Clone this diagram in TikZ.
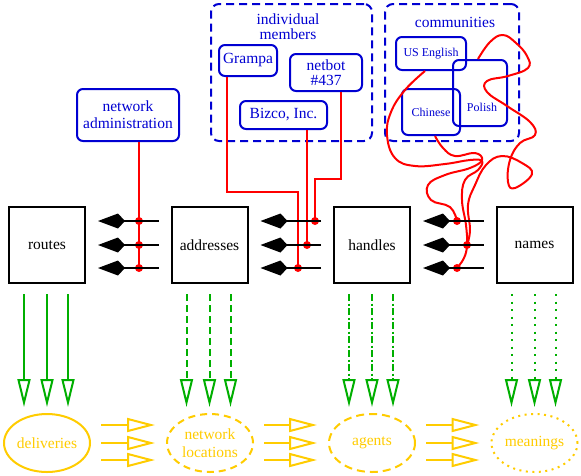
\documentclass[tikz,border=0pt]{standalone}
\usepackage{fontspec}
\setmainfont{Liberation Serif}
\usetikzlibrary{arrows.meta,shapes.geometric,calc}
\definecolor{myblue}{RGB}{0,0,210}
\definecolor{mygreen}{RGB}{0,175,0}
\definecolor{myyellow}{RGB}{255,204,0}
\newcommand\mainfs{\fontsize{15.5}{15}\selectfont}
\newcommand\smallfs{\fontsize{12}{13}\selectfont}
\begin{document}
\begin{tikzpicture}[x=1pt,y=-1pt,
  box/.style={draw=black, line width=2pt, minimum width=76pt, minimum height=76pt, inner sep=0pt, font=\mainfs},
  bluebox/.style={draw=myblue, text=myblue, line width=2pt, rounded corners=6pt, align=center, inner sep=0pt, font=\mainfs},
  commbox/.style={bluebox, font=\smallfs},
  commtext/.style={text=myblue, inner sep=0pt, font=\smallfs},
  groupbox/.style={draw=myblue, line width=2pt, dash pattern=on 8pt off 5pt, rounded corners=8pt},
  grouplabel/.style={text=myblue, align=center, inner sep=0pt, font=\mainfs},
  ell/.style={ellipse, draw=myyellow, text=myyellow, line width=2pt, minimum width=86pt, minimum height=58pt, inner sep=0pt, align=center, font=\mainfs},
  blackarr/.style={draw=black, line width=2pt, -{Kite[length=27pt,width=15pt,inset=7pt]}},
  greenarr/.style={draw=mygreen, line width=2pt, -{Triangle[open,length=28pt,width=13pt]}},
  yelarr/.style={draw=myyellow, line width=2pt, -{Triangle[open,length=28pt,width=14pt]}},
  redline/.style={draw=red, line width=2pt},
  reddot/.style={fill=red, circle, inner sep=0pt, minimum size=8pt},
]
\fill[white] (0,0) rectangle (581,475);
\useasboundingbox (0,0) rectangle (581,475);

% main boxes
\node[box] (routes) at (47,245) {routes};
\node[box] (addresses) at (209.5,245) {addresses};
\node[box] (handles) at (372,245) {handles};
\node[box] (names) at (534.5,245) {names};

% blue nodes
\node[bluebox, minimum width=102pt, minimum height=52pt, font=\fontsize{15.5}{17}\selectfont] (netadmin) at (128,115) {network\\administration};
\node[groupbox, minimum width=161pt, minimum height=137pt] (members) at (291.5,72.5) {};
\node[grouplabel] (memberslabel) at (288,27) {individual\\members};
\node[bluebox, minimum width=58pt, minimum height=31pt] (grampa) at (248,60.5) {Grampa};
\node[bluebox, minimum width=72pt, minimum height=37pt] (netbot) at (326,72.5) {netbot\\\#437};
\node[bluebox, minimum width=87pt, minimum height=28pt] (bizco) at (283.5,115) {Bizco, Inc.};
\node[groupbox, minimum width=134pt, minimum height=137pt] (communities) at (452,72.5) {};
\node[grouplabel] (commlabel) at (455,22) {communities};
\node[commbox, minimum width=70pt, minimum height=33pt] (useng) at (431,53.5) {US English};
\node[commbox, minimum width=54pt, minimum height=66pt] (polish) at (480,93) {};
\node[commtext] (polishlabel) at (482,107) {Polish};
\node[commbox, minimum width=58pt, minimum height=46pt] (chinese) at (431,112) {Chinese};

% ellipses
\node[ell] (deliv) at (47,443) {deliveries};
\node[ell, dash pattern=on 7pt off 5pt, font=\fontsize{15.5}{18.5}\selectfont] (netloc) at (210,443) {network\\locations};
\node[ell, dash pattern=on 8pt off 5pt] (agents) at (372,443) {agents};
\node[ell, dash pattern=on 2pt off 4.5pt] (meanings) at (534.5,443) {meanings};

% dot coordinates
\coordinate (d1a) at (139,221);
\coordinate (d1b) at (139,245);
\coordinate (d1c) at (139,268);
\coordinate (d2a) at (315,221);
\coordinate (d2b) at (307,245);
\coordinate (d2c) at (298,268);
\coordinate (d3a) at (457,221);
\coordinate (d3b) at (467,245);
\coordinate (d3c) at (457,268);
\coordinate (gbend) at (227,192);
\coordinate (nbend) at (341,179);

% red connectors
\draw[redline] (netadmin.south -| d1a) -- (d1c);
\draw[redline] (grampa.south -| gbend) -- (gbend) -| (d2c);
\draw[redline] (bizco.south -| d2b) -- (d2b);
\draw[redline] (netbot.south -| nbend) -- (nbend) -| (d2a);

\draw[redline, line join=round] plot[smooth, tension=0.7] coordinates {([xshift=-6pt]useng.south) (405,90) (391,112) (387,135) (395,158) (415,166) (445,164) (470,160) (482,161) (478,170) (465,180) (462,200) (466,225) (467,245) (464,258) (d3c)};
\draw[redline, line join=round] plot[smooth, tension=0.7] coordinates {([xshift=4pt]chinese.south) (443,148) (455,156) (475,153) (482,160) (470,168) (445,175) (428,185) (431,200) (450,207) (d3a)};
\draw[redline, line join=round] plot[smooth, tension=0.7] coordinates {([xshift=-2pt]polish.north) (490,42) (503,35) (516,43) (527,56) (528,68) (508,76) (487,81) (487,92) (507,106) (530,122) (535,135) (520,143) (510,160) (508,182) (515,188) (532,174) (522,163) (502,156) (486,165) (475,185) (468,205) (470,230) (d3b)};

\foreach \d in {d1a,d1b,d1c,d2a,d2b,d2c,d3a,d3b,d3c} {\node[reddot] (dot\d) at (\d) {};}

% black arrows
\foreach \dy in {-24,0,23} {
  \draw[blackarr] ($(addresses.west)+(-12,\dy)$) -- ($(routes.east)+(12,\dy)$);
  \draw[blackarr] ($(handles.west)+(-12,\dy)$) -- ($(addresses.east)+(12,\dy)$);
  \draw[blackarr] ($(names.west)+(-12,\dy)$) -- ($(handles.east)+(12,\dy)$);
}

% green arrows
\foreach \dx in {-23,0,21} {
  \draw[greenarr] ($(routes.south)+(\dx,10)$) -- ($(routes.south |- deliv.north)+(\dx,-6)$);
  \draw[greenarr, dash pattern=on 7pt off 4pt] ($(addresses.south)+(\dx,10)$) -- ($(addresses.south |- netloc.north)+(\dx,-6)$);
  \draw[greenarr, dash pattern=on 7pt off 2.5pt on 2pt off 2.5pt] ($(handles.south)+(\dx,10)$) -- ($(handles.south |- agents.north)+(\dx,-6)$);
  \draw[greenarr, dash pattern=on 2pt off 5.5pt] ($(names.south)+(\dx,10)$) -- ($(names.south |- meanings.north)+(\dx,-6)$);
}

% yellow arrows
\foreach \dy in {-18,0,17} {
  \draw[yelarr] ($(deliv.east)+(10,\dy)$) -- ($(netloc.west)+(-11,\dy)$);
  \draw[yelarr] ($(netloc.east)+(10,\dy)$) -- ($(agents.west)+(-11,\dy)$);
  \draw[yelarr] ($(agents.east)+(10,\dy)$) -- ($(meanings.west)+(-11,\dy)$);
}
\end{tikzpicture}
\end{document}
